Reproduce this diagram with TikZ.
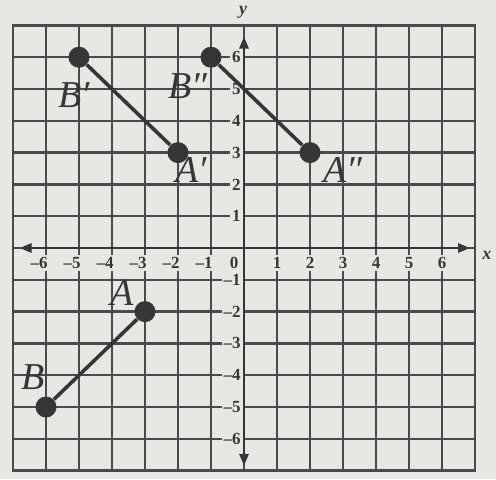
\documentclass[tikz,border=0pt]{standalone}
\usepackage{fontspec}
\setmainfont{Liberation Serif}
\usetikzlibrary{arrows.meta}
\definecolor{bg}{HTML}{E8E7E4}
\definecolor{ink}{HTML}{363636}
\definecolor{gridc}{HTML}{4A4A4A}
\tikzset{
  gridline/.style={draw=gridc, line width=1.2pt},
  axisline/.style={draw=ink, line width=1.4pt, -{Triangle[length=6pt,width=4.5pt]}},
  ylab/.style={anchor=east, fill=bg, inner sep=1pt, font=\bfseries\fontsize{8.5}{9}\selectfont, text=ink},
  xlab/.style={fill=bg, inner sep=1pt, font=\bfseries\fontsize{8.5}{9}\selectfont, text=ink},
  axname/.style={font=\bfseries\itshape\fontsize{9}{10}\selectfont, text=ink},
  dot/.style={circle, fill=ink, inner sep=0pt, minimum size=10.5pt},
  seg/.style={draw=ink, line width=1.8pt},
  ptlab/.style={font=\itshape\fontsize{19}{20}\selectfont, text=ink, inner sep=0pt}
}
\begin{document}
\begin{tikzpicture}[x=16.5pt, y=15.9pt]
\useasboundingbox[fill=bg] (-7.394,-7.264) rectangle (7.636,7.799);
% grid
\foreach \i in {-6,...,6} {
  \draw[gridline] (\i,-7) -- (\i,7);
  \draw[gridline] (-7,\i) -- (7,\i);
}
\draw[gridline, line width=1.4pt] (-7,-7) rectangle (7,7);
% axis labels (with background breaking the grid)
\foreach \i in {1,...,6} {
  \node[ylab] (yl\i) at (-0.03,\i) {\i};
  \node[ylab] (ylm\i) at (-0.03,-\i) {–\i};
  \node[xlab] (xl\i) at (\i,-0.47) {\i};
  \node[xlab, anchor=east] (xlm\i) at (-\i+0.12,-0.47) {–\i};
}
\node[xlab] (xl0) at (-0.3,-0.47) {0};
% axes
\coordinate (yb) at (0,-6.85);
\coordinate (yt) at (0,6.65);
\coordinate (xl) at (-6.8,0);
\coordinate (xr) at (6.85,0);
\coordinate (o) at (0,0);
\draw[axisline] (o) -- (yt);
\draw[axisline] (o) -- (yb);
\draw[axisline] (o) -- (xl);
\draw[axisline] (o) -- (xr);
\node[axname] (ly) at (-0.03,7.42) {y};
\node[axname] (lx) at (7.36,-0.22) {x};
% points
\node[dot] (Bp) at (-5,6) {};
\node[dot] (Ap) at (-2,3) {};
\node[dot] (Bpp) at (-1,6) {};
\node[dot] (App) at (2,3) {};
\node[dot] (A) at (-3,-2) {};
\node[dot] (B) at (-6,-5) {};
\draw[seg] (Bp) -- (Ap);
\draw[seg] (Bpp) -- (App);
\draw[seg] (A) -- (B);
% point labels
\node[ptlab] (lBp) at (-5.15,4.8) {B′};
\node[ptlab] (lAp) at (-1.6,2.45) {A′};
\node[ptlab] (lBpp) at (-1.7,5.1) {B″};
\node[ptlab] (lApp) at (3.0,2.45) {A″};
\node[ptlab] (lA) at (-3.7,-1.42) {A};
\node[ptlab] (lB) at (-6.4,-4.05) {B};
\end{tikzpicture}
\end{document}
